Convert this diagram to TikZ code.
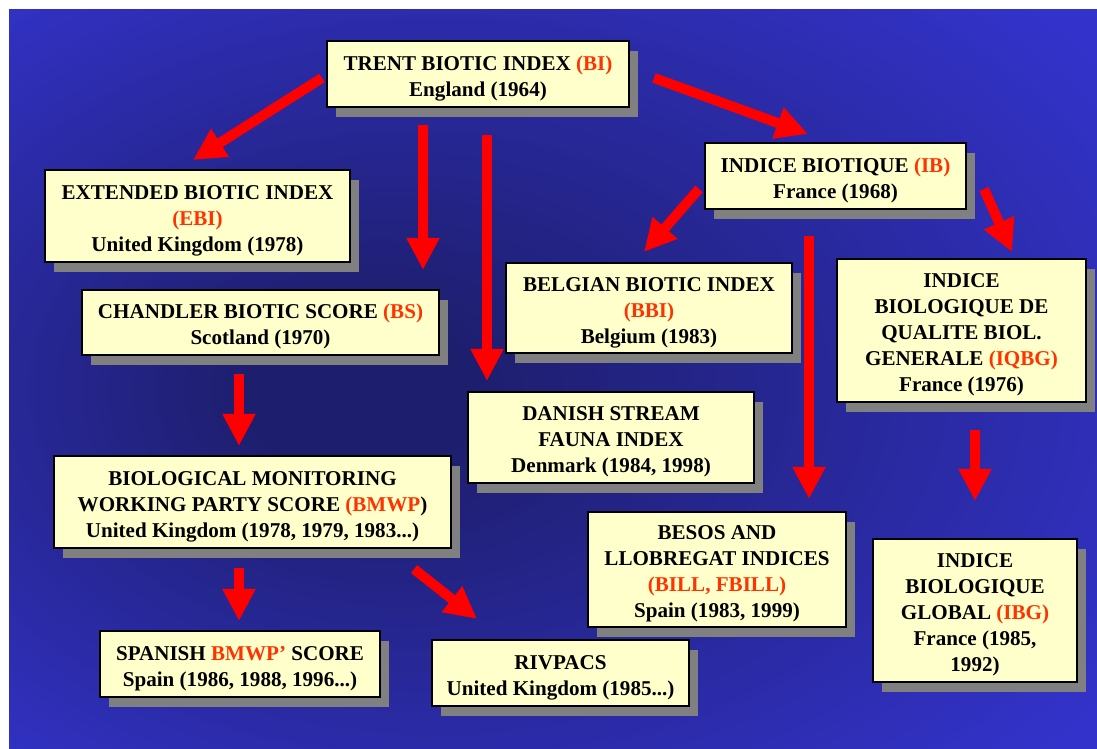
\documentclass[tikz,border=0pt]{standalone}
\usepackage{fontspec}
\setmainfont{Liberation Serif}
\usepackage{xcolor}
\usetikzlibrary{arrows.meta,shadows,calc}

\definecolor{bgblue}{RGB}{51,51,204}
\definecolor{bgdark}{RGB}{30,30,110}
\definecolor{boxfill}{RGB}{255,255,204}
\definecolor{abbrev}{RGB}{255,51,0}
\definecolor{shadowgray}{RGB}{128,128,128}

\pgfdeclareradialshading{bgglow}{\pgfpoint{-10bp}{-1bp}}{%
  color(0bp)=(bgdark); color(5bp)=(bgdark); color(36bp)=(bgblue); color(50bp)=(bgblue)}

\newcommand{\shortname}[1]{\textcolor{abbrev}{#1}}
\newcommand{\boxtop}{\rule{0pt}{13pt}}

\begin{document}
\begin{tikzpicture}[x=0.02cm, y=-0.02cm,
  indexbox/.style={draw=black, line width=1.2pt, fill=boxfill, align=center, inner sep=2pt,
    font=\fontsize{12}{14.8}\selectfont\bfseries,
    drop shadow={shadow xshift=0.18cm, shadow yshift=-0.2cm, fill=shadowgray, opacity=1}},
  redarrow/.style={draw=red, line width=0.2cm, -{Triangle[width=0.62cm,length=0.64cm]}}]

\useasboundingbox (0,0) rectangle (1097,749);

%% background
\shade[shading=bgglow] (9,10) rectangle (1097,749);

% Trent line
\node[indexbox, minimum width=6.04cm, minimum height=1.32cm] (trent) at (478,74)
    {\boxtop TRENT BIOTIC INDEX \shortname{(BI)}\\ England (1964)};
\node[indexbox, minimum width=6.10cm, minimum height=1.84cm] (ebi) at (197.5,216)
    {\boxtop EXTENDED BIOTIC INDEX\\ \shortname{(EBI)}\\ United Kingdom (1978)};
\node[indexbox, minimum width=7.14cm, minimum height=1.30cm] (bs) at (260.5,322.5)
    {\boxtop CHANDLER BIOTIC SCORE \shortname{(BS)}\\ Scotland (1970)};
\node[indexbox, minimum width=7.94cm, minimum height=1.84cm] (bmwp) at (252.5,502)
    {\boxtop BIOLOGICAL MONITORING\\ WORKING PARTY SCORE \shortname{(BMWP}) \\ United Kingdom (1978, 1979, 1983...)};
\node[indexbox, minimum width=5.60cm, minimum height=1.32cm] (sbmwp) at (240,664)
    {\boxtop SPANISH \shortname{BMWP’} SCORE\\ Spain (1986, 1988, 1996...)};
\node[indexbox, minimum width=5.14cm, minimum height=1.32cm] (rivpacs) at (560.5,673)
    {\boxtop RIVPACS\\ United Kingdom (1985...)};
\node[indexbox, minimum width=5.72cm, minimum height=1.82cm] (dsfi) at (611,437.5)
    {\boxtop DANISH STREAM\\ FAUNA INDEX\\ Denmark (1984, 1998)};

% French line
\node[indexbox, minimum width=5.22cm, minimum height=1.32cm] (ib) at (835.5,176)
    {\boxtop INDICE BIOTIQUE \shortname{(IB)}\\ France (1968)};
\node[indexbox, minimum width=5.72cm, minimum height=1.80cm] (bbi) at (649,308)
    {\boxtop BELGIAN BIOTIC INDEX\\ \shortname{(BBI)}\\ Belgium (1983)};
\node[indexbox, minimum width=4.98cm, minimum height=2.86cm] (iqbg) at (961.5,330.5)
    {\boxtop INDICE\\ BIOLOGIQUE DE\\ QUALITE BIOL.\\ GENERALE \shortname{(IQBG)}\\ France (1976)};
\node[indexbox, minimum width=5.16cm, minimum height=2.30cm] (bill) at (717,569.5)
    {\boxtop BESOS AND\\ LLOBREGAT INDICES\\ \shortname{(BILL, FBILL)}\\ Spain (1983, 1999)};
\node[indexbox, minimum width=4.08cm, minimum height=2.86cm] (ibg) at (975,610.5)
    {\boxtop INDICE\\ BIOLOGIQUE\\ GLOBAL \shortname{(IBG)}\\ France (1985,\\ 1992)};

% arrows
\draw[redarrow] ($(trent.west)+(-4,4)$) -- ($(ebi.north)+(-4.5,-9)$);
\draw[redarrow] ($(trent.south)+(-55,17)$) -- ($(bs.north)+(162.5,-19)$);
\draw[redarrow] ($(trent.south)+(9,27)$) -- ($(dsfi.north)+(-124,-10)$);
\draw[redarrow] ($(trent.east)+(24,4)$) -- ($(ib.north)+(-27.5,-8)$);
\draw[redarrow] ($(ib.west)+(-5,13)$) -- ($(bbi.north)+(-5,-10)$);
\draw[redarrow] ($(ib.east)+(17,13)$) -- ($(iqbg.north)+(50.5,-6)$);
\draw[redarrow] ($(ib.south)+(-26.5,26)$) -- ($(bill.north)+(92,-12)$);
\draw[redarrow] ($(iqbg.south)+(13.5,27)$) -- ($(ibg.north)+(0,-37)$);
\draw[redarrow] ($(bs.south)+(-21.5,18)$) -- ($(bmwp.north)+(-13.5,-9)$);
\draw[redarrow] ($(bmwp.south)+(-13.5,19)$) -- ($(sbmwp.north)+(-1,-9)$);
\draw[redarrow] ($(bmwp.south east)+(-38,20)$) -- ($(rivpacs.north)+(-83.5,-20)$);

\end{tikzpicture}
\end{document}
